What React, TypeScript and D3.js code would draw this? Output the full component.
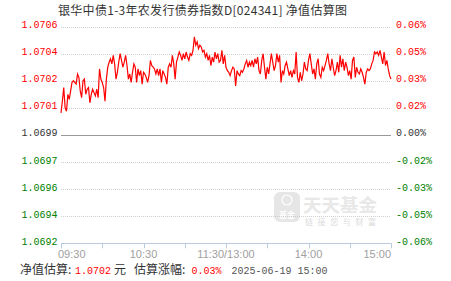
import React from "react";
import * as d3 from "d3";

// ---------- data ----------
const titleText = "银华中债1-3年农发行债券指数D[024341] 净值估算图";
const navTickLabels = ["1.0706", "1.0704", "1.0702", "1.0701", "1.0699", "1.0697", "1.0696", "1.0694", "1.0692"];
const pctTickLabels = ["0.06%", "0.05%", "0.03%", "0.02%", "0.00%", "-0.02%", "-0.03%", "-0.05%", "-0.06%"];
const pctTickValues = [0.064, 0.048, 0.032, 0.016, 0, -0.016, -0.032, -0.048, -0.064];
const timeTickIdx = [0, 30, 60, 90, 120, 150, 180, 210, 240];
const timeLabels = ["09:30", "10:30", "11:30/13:00", "14:00", "15:00"];
const timeLabelIdx = [0, 60, 120, 180, 240];

// estimated change (%) per minute, 09:30 .. 11:30 then 13:01 .. 15:00
const estPct = [
  0.013, 0.020, 0.028, 0.016, 0.014, 0.024, 0.021, 0.026, 0.031, 0.032,
  0.031, 0.030, 0.036, 0.034, 0.026, 0.022, 0.032, 0.033, 0.024, 0.027,
  0.028, 0.019, 0.024, 0.027, 0.025, 0.023, 0.027, 0.022, 0.039, 0.033,
  0.031, 0.028, 0.020, 0.033, 0.040, 0.043, 0.045, 0.042, 0.047, 0.042,
  0.033, 0.037, 0.043,
  0.048, 0.044, 0.040, 0.043, 0.047, 0.041, 0.033, 0.036, 0.031, 0.037,
  0.042, 0.040, 0.031, 0.039, 0.035, 0.038, 0.030, 0.037, 0.036, 0.034,
  0.031, 0.035, 0.044, 0.041, 0.040, 0.039, 0.036, 0.039, 0.035, 0.039,
  0.031, 0.038, 0.036, 0.034, 0.030, 0.040, 0.042, 0.040, 0.047, 0.042,
  0.033, 0.043, 0.046, 0.049,
  0.047, 0.044, 0.048, 0.045, 0.049, 0.046, 0.044, 0.048, 0.047, 0.050,
  0.058, 0.053, 0.055, 0.051, 0.053, 0.052, 0.049, 0.050, 0.046, 0.048,
  0.044, 0.047, 0.041, 0.046, 0.043, 0.049, 0.045, 0.048, 0.043,
  0.044, 0.050, 0.042, 0.047, 0.040, 0.038, 0.037, 0.035, 0.038, 0.040,
  0.039, 0.029, 0.038, 0.036, 0.035, 0.038, 0.037, 0.039, 0.042, 0.044,
  0.040, 0.043, 0.041, 0.044, 0.040, 0.045, 0.042, 0.046, 0.038, 0.036,
  0.044, 0.048, 0.040, 0.033, 0.040, 0.036, 0.042, 0.048, 0.043, 0.038,
  0.041, 0.048, 0.043, 0.047, 0.031, 0.038, 0.036, 0.041, 0.043, 0.039,
  0.035, 0.038, 0.034, 0.038, 0.036, 0.049, 0.034, 0.031, 0.037, 0.032,
  0.036, 0.043, 0.039, 0.038, 0.044, 0.048, 0.042, 0.036, 0.039, 0.033,
  0.042, 0.045, 0.036, 0.034, 0.040, 0.038, 0.041, 0.044, 0.048, 0.042,
  0.038, 0.045, 0.040, 0.035, 0.038, 0.043, 0.037, 0.047, 0.040, 0.045,
  0.038, 0.043, 0.040, 0.035, 0.038, 0.033, 0.044, 0.046, 0.034, 0.040,
  0.037, 0.036, 0.039, 0.037, 0.034, 0.030, 0.037, 0.039, 0.038, 0.039,
  0.042, 0.044, 0.049, 0.048, 0.049, 0.047, 0.050, 0.046, 0.042, 0.049,
  0.041, 0.044, 0.039, 0.035, 0.033,
];

const footerNav = "1.0702";
const footerPct = "0.03%";
const footerTime = "2025-06-19 15:00";

// ---------- layout ----------
const W = 451;
const H = 281;
const L = 61;
const R = 391;
const T = 26.6;
const B = 243.3;

const mono = "'Liberation Mono', 'DejaVu Sans Mono', monospace";
const cjk = "'Noto Sans CJK SC', sans-serif";
const sans = "'Liberation Sans', Arial, sans-serif";

const signColor = (v: number) => (v > 0 ? "#ff0000" : v < 0 ? "#008000" : "#333333");

export default function App() {
  const x = d3.scaleLinear().domain([0, 240]).range([L, R]);
  const y = d3.scaleLinear().domain([-0.064, 0.064]).range([B, T]);
  const line = d3
    .line<number>()
    .x((_, i) => x(i))
    .y((d) => y(d));
  const crisp = (v: number) => Math.round(v) + 0.5;

  return (
    <svg
      width={W}
      height={H}
      style={{ position: "absolute", left: 0, top: 0, background: "#fff" }}
    >
      <rect x={0} y={0} width={W} height={H} fill="#fff" />
      {/* title */}
      <text
        x={58}
        y={15}
        fontFamily={cjk}
        fontSize={12}
        fill="#333"
        textLength={289}
        lengthAdjust="spacing"
      >
        {titleText}
      </text>

      {/* watermark */}
      <g opacity={1}>
        <rect x={274} y={192} width={26} height={30} rx={6} fill="#e6e6e6" />
        <circle cx={287} cy={200} r={5} fill="none" stroke="#fff" strokeWidth={1.2} />
        <text x={287} y={218} textAnchor="middle" fontFamily={cjk} fontSize={8} fontWeight={700} fill="#fff">
          基金
        </text>
        <text x={303} y={212} fontFamily={cjk} fontSize={18.5} fontWeight={700} fill="#e8e8e8">
          天天基金
        </text>
        <text x={305} y={225} fontFamily={cjk} fontSize={8} fill="#dcdcdc" letterSpacing={4.6}>
          链接您与财富
        </text>
      </g>

      {/* horizontal grid */}
      {pctTickValues.map((v, i) => {
        const yy = crisp(y(v));
        if (i === pctTickValues.length - 1) return null;
        return v === 0 ? (
          <line key={i} x1={L} x2={R} y1={yy} y2={yy} stroke="#999" strokeWidth={1} />
        ) : (
          <line key={i} x1={L} x2={R} y1={yy} y2={yy} stroke="#cfcfcf" strokeWidth={1} strokeDasharray="1,1" />
        );
      })}

      {/* x axis */}
      <line x1={L} x2={R} y1={crisp(B)} y2={crisp(B)} stroke="#b9cbe0" strokeWidth={1} />
      {timeTickIdx.map((t) => (
        <line key={t} x1={crisp(x(t))} x2={crisp(x(t))} y1={B} y2={B + 5} stroke="#b9cbe0" strokeWidth={1} />
      ))}
      {timeLabels.map((lab, i) => {
        const idx = timeLabelIdx[i];
        const first = i === 0;
        const last = i === timeLabels.length - 1;
        return (
          <text
            key={lab}
            x={first ? x(idx) - 3 : x(idx)}
            y={258}
            textAnchor={first ? "start" : last ? "end" : "middle"}
            fontFamily={sans}
            fontSize={11}
            fill="#a0a0a0"
          >
            {lab}
          </text>
        );
      })}

      {/* y labels */}
      {pctTickValues.map((v, i) => (
        <text
          key={"l" + i}
          x={57.5}
          y={y(v) + 1.5}
          textAnchor="end"
          fontFamily={mono}
          fontSize={10}
          fill={signColor(v)}
        >
          {navTickLabels[i]}
        </text>
      ))}
      {pctTickValues.map((v, i) => (
        <text
          key={"r" + i}
          x={396}
          y={y(v) + 1.5}
          textAnchor="start"
          fontFamily={mono}
          fontSize={10}
          fill={signColor(v)}
        >
          {pctTickLabels[i]}
        </text>
      ))}

      {/* series */}
      <path d={line(estPct) || ""} fill="none" stroke="#ff0000" strokeWidth={1.2} />

      {/* footer */}
      <text y={274} fontSize={12} fill="#333">
        <tspan x={20} fontFamily={cjk}>净值估算:</tspan>
        <tspan x={75} fontFamily={mono} fontSize={10} fill="#ff0000">{footerNav}</tspan>
        <tspan x={114} fontFamily={cjk}>元</tspan>
        <tspan x={134} fontFamily={cjk}>估算涨幅:</tspan>
        <tspan x={191.5} fontFamily={mono} fontSize={10} fill="#ff0000">{footerPct}</tspan>
        <tspan x={231.5} fontFamily={mono} fontSize={10} fill="#555">{footerTime}</tspan>
      </text>
    </svg>
  );
}
